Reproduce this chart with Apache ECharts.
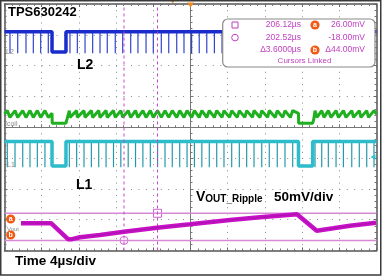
<!DOCTYPE html>
<html><head><meta charset="utf-8">
<script src="https://cdn.jsdelivr.net/npm/echarts@6/dist/echarts.min.js"></script>
<style>html,body{margin:0;padding:0;background:#fff;overflow:hidden}#c{width:383px;height:276px}</style>
</head><body><div id="c"></div>
<script>
// ---- data (time in µs from the left edge of the screen, 4 µs/div) ----
const l2Spikes = [0.59,1.42,2.31,3.10,3.89,4.71,7.04,7.83,8.66,9.48,10.27,11.05,11.91,12.71,13.57,14.35,15.22,16.00,16.86,17.66,18.52,19.30,20.12,20.94,21.75,22.57,23.39,24.20,25.02,25.84,26.66,27.47,28.29,29.11,29.92,30.74,33.60,34.35,35.11,35.91,36.72,37.53,38.33,39.14];
const l1Spikes = [0.30,1.13,1.96,2.74,3.53,4.35,6.97,7.76,8.55,9.34,10.13,10.92,11.72,12.51,13.30,14.09,14.88,15.68,16.46,17.26,18.04,18.84,19.63,20.42,21.22,22.02,22.82,23.60,24.43,25.25,26.04,26.83,27.66,28.47,29.33,30.16,30.99,33.39,34.11,34.82,35.65,36.44,37.34,38.15,38.95,39.73];
const gapStarts = [5.11, 31.61];
const gapEnds = [6.61, 33.14];
// levels in screen divisions
const l2High = 3.10, l2Low = 2.44, l2SpikeLow = 2.40;
const l1High = -0.46, l1Low = -1.26, l1SpikeLow = -1.30;
const icPeak = 0.54, icValley = 0.32, icGapLow = 0.13, icGapEdge = 0.45, icRecover = 0.27;
// Vout ripple (mV)
const voutT  = [1.77, 5.00, 6.83, 7.26, 8.12, 10.27, 12.85, 16.40, 19.95, 24.25, 27.47, 31.45, 33.57, 35.35, 37.15, 39.95];
const voutMv = [10,   10,   -16,  -16,  -13,  -9.3,  -3.9,  2.6,   8.1,   15.1,  19.5,  24.5,  -2.3,  1.6,   5.8,   10.8];
const cursorA = 26, cursorB = -18;          // mV
const cursorT1 = 12.85, cursorT2 = 16.45;   // µs (202.52 / 206.12)
const voutZeroDiv = -3.312, voutMvPerDiv = 50;
const tMin = 0, tMax = 40;

// ---- build series data ----
function levelTrace(hi, lo) {
  const d = [[tMin, hi]];
  gapStarts.forEach((a, i) => { const b = gapEnds[i]; d.push([a, hi], [a, lo], [b, lo], [b, hi]); });
  d.push([tMax, hi]);
  return d;
}
function spikeTrace(times, hi, lo) {
  const d = [];
  times.forEach(t => { d.push([t, hi], [t, lo], [t, null]); });
  return d;
}
function inGap(t) { return gapStarts.some((a, i) => t > a - 0.05 && t < gapEnds[i] + 0.12); }
const icoil = [];
l1Spikes.forEach(t => { if (!inGap(t)) icoil.push([t, icPeak]); });
l2Spikes.forEach(t => { if (!inGap(t)) icoil.push([t, icValley]); });
gapStarts.forEach((a, i) => {
  const b = gapEnds[i];
  icoil.push([a, icGapEdge], [a + 0.02, icGapLow], [b, icGapLow], [b + 0.12, icRecover]);
});
icoil.push([tMin, 0.43], [tMax, 0.43]);
icoil.sort((p, q) => p[0] - q[0]);
const toDiv = mv => voutZeroDiv + mv / voutMvPerDiv;
const vout = voutT.map((t, i) => [t, toDiv(voutMv[i])]);

const G = {left: 4.5, top: 4, width: 372, height: 246.5};
const chart = echarts.init(document.getElementById('c'), null, {renderer: 'canvas'});
const frameLine = {show: true, onZero: false, lineStyle: {color: '#555', width: 1.5}};
const hide = {show: false};
function xAx(pos, extra) {
  return Object.assign({type: 'value', min: tMin, max: tMax, interval: 4, position: pos,
    axisLine: frameLine, axisLabel: hide,
    axisTick: {show: true, inside: true, length: 3, lineStyle: {color: '#666'}},
    minorTick: {show: true, splitNumber: 5, length: 2, lineStyle: {color: '#777'}},
    splitLine: hide}, extra || {});
}
function yAx(pos, extra) {
  return Object.assign({type: 'value', min: -4, max: 4, interval: 1, position: pos,
    axisLine: frameLine, axisLabel: hide,
    axisTick: {show: true, inside: true, length: 3, lineStyle: {color: '#666'}},
    minorTick: {show: true, splitNumber: 5, length: 2, lineStyle: {color: '#777'}},
    splitLine: hide}, extra || {});
}
const centerLine = {show: true, onZero: false, lineStyle: {color: '#777', width: 1}};
const ORANGE = '#f05a14', MAG = '#c040c0';
function letter(x, y, ch) {
  return [
    {type: 'circle', z: 120, shape: {cx: x, cy: y, r: 4.6}, style: {fill: ORANGE}},
    {type: 'text', z: 121, style: {text: ch, x: x, y: y + 0.3, fill: '#fff', font: 'bold 7px "Liberation Sans"', textAlign: 'center', textVerticalAlign: 'middle', align: 'center', verticalAlign: 'middle'}}
  ];
}
function txt(x, y, s, font, fill, align) {
  return {type: 'text', z: 110, style: {text: s, x: x, y: y, font: font, fill: fill || '#000',
    textAlign: align || 'left', align: align || 'left', textVerticalAlign: 'middle', verticalAlign: 'middle'}};
}
const boxFont = '8.5px "Liberation Sans"';
const graphics = [
  {type: 'rect', z: 200, silent: true, shape: {x: 0.75, y: 0.75, width: 380, height: 274.25}, style: {fill: 'none', stroke: '#3a3a3a', lineWidth: 1.5}},
  txt(8, 12.5, 'TPS630242', 'bold 13px "Liberation Sans"'),
  txt(77, 65, 'L2', 'bold 14px "Liberation Sans"'),
  txt(76, 185, 'L1', 'bold 14px "Liberation Sans"'),
  {type: 'text', z: 110, style: {x: 196, y: 197, text: '{v|V}{s|OUT_Ripple}', textVerticalAlign: 'middle', verticalAlign: 'middle',
    rich: {v: {font: 'bold 14px "Liberation Sans"', fill: '#000', verticalAlign: 'bottom'}, s: {font: 'bold 10px "Liberation Sans"', fill: '#000', padding: [5, 0, 0, 0]}}}},
  txt(274, 197.5, '50mV/div', 'bold 13.5px "Liberation Sans"'),
  txt(15, 261.5, 'Time 4µs/div', 'bold 13.5px "Liberation Sans"'),
  txt(6, 52, 'L2', '7px "Liberation Sans"', '#8a8a8a'),
  txt(5, 124, 'Icoil', '7px "Liberation Sans"', '#8a8a8a'),
  txt(7, 165.5, 'L1', '7px "Liberation Sans"', '#8a8a8a'),
  txt(7, 229.5, 'Vout', '6px "Liberation Sans"', '#8a8a8a'),
  {type: 'polygon', z: 120, shape: {points: [[187, 2.5], [194, 2.5], [190.5, 7.5]]}, style: {fill: '#f08a20'}},
  {type: 'polygon', z: 120, shape: {points: [[171.3, 1], [174.3, 1], [172.8, 3.5]]}, style: {fill: '#f08a20'}},
  {type: 'polygon', z: 120, shape: {points: [[370.5, 157], [375.5, 154.3], [375.5, 159.7]]}, style: {fill: '#30c0d0'}},
  ...letter(10.7, 219, 'a'),
  ...letter(10.7, 235, 'b'),
  // cursor readout box
  {type: 'rect', z: 100, shape: {x: 222.7, y: 19, width: 152.3, height: 48, r: 5}, style: {fill: '#fff', stroke: '#8a8a8a', lineWidth: 1.2}},
  {type: 'rect', z: 110, shape: {x: 232, y: 22, width: 6, height: 6}, style: {fill: 'none', stroke: MAG, lineWidth: 1}},
  {type: 'circle', z: 110, shape: {cx: 235, cy: 37.6, r: 3.3}, style: {fill: 'none', stroke: MAG, lineWidth: 1}},
  txt(301, 25, '206.12µs', boxFont, MAG, 'right'),
  txt(301, 37.7, '202.52µs', boxFont, MAG, 'right'),
  txt(301, 50, 'Δ3.6000µs', boxFont, MAG, 'right'),
  txt(365, 25, '26.00mV', boxFont, MAG, 'right'),
  txt(365, 37.7, '-18.00mV', boxFont, MAG, 'right'),
  txt(365, 50, 'Δ44.00mV', boxFont, MAG, 'right'),
  txt(304.5, 61, 'Cursors Linked', '8px "Liberation Sans"', MAG, 'center'),
  ...letter(315, 25, 'a'),
  ...letter(315, 50, 'b')
];
const ln = (data, color, width, extra) => Object.assign({type: 'line', data: data, symbol: 'none', silent: true,
  lineStyle: {color: color, width: width}, xAxisIndex: 0, yAxisIndex: 0}, extra || {});
chart.setOption({
  animation: false,
  backgroundColor: '#fff',
  grid: G,
  xAxis: [
    xAx('bottom', {splitLine: {show: true, lineStyle: {color: '#888', width: 1, type: [1, 5.16]}}}),
    xAx('top'),
    xAx('bottom', {offset: -123.25, axisLine: centerLine, axisTick: {show: true, inside: true, length: 3, lineStyle: {color: '#777'}}})
  ],
  yAxis: [
    yAx('left', {splitLine: {show: true, lineStyle: {color: '#888', width: 1, type: [1, 6.44]}}}),
    yAx('right'),
    yAx('left', {offset: -186, axisLine: centerLine, axisTick: {show: true, inside: true, length: 3, lineStyle: {color: '#777'}}})
  ],
  graphic: {elements: graphics},
  series: [
    ln(spikeTrace(l2Spikes, l2High, l2SpikeLow), '#3344cc', 1.2),
    ln(levelTrace(l2High, l2Low), '#1a2ccc', 3.5),
    ln(icoil, '#1fb01f', 3),
    ln(spikeTrace(l1Spikes, l1High, l1SpikeLow), '#239aa8', 1.2),
    ln(levelTrace(l1High, l1Low), '#2cbccb', 3.5),
    ln([[tMin, toDiv(cursorA)], [tMax, toDiv(cursorA)]], '#d68ad6', 1.5),
    ln([[tMin, toDiv(cursorB)], [tMax, toDiv(cursorB)]], '#d68ad6', 1.5),
    ln([[cursorT1, -4], [cursorT1, 4]], '#cc33cc', 1, {lineStyle: {color: '#d040d0', width: 1, type: [3, 3]}}),
    ln([[cursorT2, -4], [cursorT2, 4]], '#cc33cc', 1, {lineStyle: {color: '#d040d0', width: 1, type: [3, 3]}}),
    ln(vout, '#c810c8', 4.5),
    ln(vout, '#8a1a8a', 1, {lineStyle: {color: '#8a1a8a', width: 1, opacity: 0.5}}),
    {type: 'scatter', silent: true, data: [[cursorT2, toDiv(cursorA)]], symbol: 'rect', symbolSize: 8,
      itemStyle: {color: 'rgba(0,0,0,0)', borderColor: MAG, borderWidth: 1}},
    {type: 'scatter', silent: true, data: [[cursorT1, toDiv(cursorB)]], symbol: 'circle', symbolSize: 8,
      itemStyle: {color: 'rgba(0,0,0,0)', borderColor: MAG, borderWidth: 1}}
  ]
});
</script></body></html>
